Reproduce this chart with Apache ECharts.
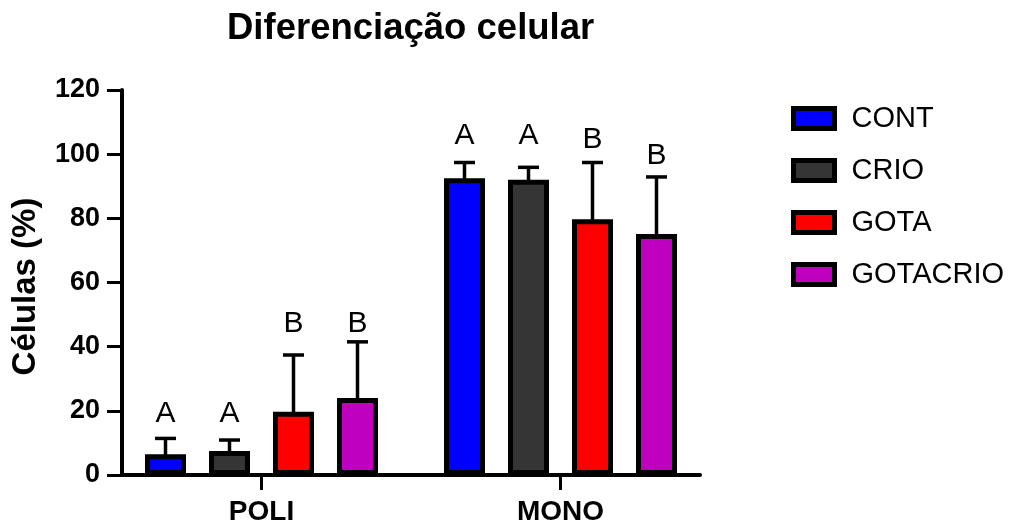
<!DOCTYPE html>
<html>
<head>
<meta charset="utf-8">
<script src="https://cdn.jsdelivr.net/npm/echarts@6/dist/echarts.min.js"></script>
<style>html,body{margin:0;padding:0;background:#fff}#c{width:1016px;height:525px}</style>
</head>
<body>
<div id="c"></div>
<script>
const categories = ['POLI', 'MONO'];
const seriesNames = ['CONT', 'CRIO', 'GOTA', 'GOTACRIO'];
const seriesColors = ['#0000ff', '#353535', '#ff0000', '#c000c0'];
const meanCONT = [6.5, 92.5];
const meanCRIO = [7.5, 92.0];
const meanGOTA = [19.7, 79.7];
const meanGOTACRIO = [24.0, 75.1];
const sdCONT = [4.9, 4.9];
const sdCRIO = [3.4, 3.9];
const sdGOTA = [17.7, 17.7];
const sdGOTACRIO = [17.5, 17.8];
const lettersCONT = ['A', 'A'];
const lettersCRIO = ['A', 'A'];
const lettersGOTA = ['B', 'B'];
const lettersGOTACRIO = ['B', 'B'];
const letterLevelCONT = [16.3, 102.9];
const letterLevelCRIO = [16.3, 102.9];
const letterLevelGOTA = [44.2, 101.8];
const letterLevelGOTACRIO = [44.2, 96.6];
const yTicks = [0, 20, 40, 60, 80, 100, 120];

const means = [meanCONT, meanCRIO, meanGOTA, meanGOTACRIO];
const sds = [sdCONT, sdCRIO, sdGOTA, sdGOTACRIO];
const letters = [lettersCONT, lettersCRIO, lettersGOTA, lettersGOTACRIO];
const letterLevels = [letterLevelCONT, letterLevelCRIO, letterLevelGOTA, letterLevelGOTACRIO];

const FONT = "'Liberation Sans', Arial, sans-serif";
const BAR_W = 41, BAR_GAP = 23;
const STEP = BAR_W + BAR_GAP;

const series = [];
seriesNames.forEach((name, i) => {
  series.push({
    name: name, type: 'bar', xAxisIndex: 0, yAxisIndex: 0,
    barWidth: BAR_W, barGap: (BAR_GAP / BAR_W * 100) + '%',
    itemStyle: { color: seriesColors[i], borderColor: '#000', borderWidth: 5 },
    data: means[i], z: 3
  });
});
seriesNames.forEach((name, i) => {
  series.push({
    name: 'err_' + name, type: 'custom', xAxisIndex: 0, yAxisIndex: 0, z: 2,
    data: categories.map((c, k) => [k, means[i][k], sds[i][k], letterLevels[i][k]]),
    renderItem: function (params, api) {
      const k = api.value(0);
      const m = api.value(1), s = api.value(2), lv = api.value(3);
      const base = api.coord([k, m]);
      const top = api.coord([k, m + s]);
      const lp = api.coord([k, lv]);
      const cx = base[0] + (i - 1.5) * STEP;
      const txt = letters[i][k];
      return {
        type: 'group',
        children: [
          { type: 'line', shape: { x1: cx, y1: base[1] + 4, x2: cx, y2: top[1] }, style: { stroke: '#000', lineWidth: 3.5 } },
          { type: 'line', shape: { x1: cx - 10.5, y1: top[1], x2: cx + 10.5, y2: top[1] }, style: { stroke: '#000', lineWidth: 3.5 } },
          { type: 'text', x: cx, y: lp[1] + 6, style: { text: txt, fill: '#000', font: "30px " + FONT, textAlign: 'center', textVerticalAlign: 'bottom' } }
        ]
      };
    }
  });
});

const option = {
  animation: false,
  backgroundColor: '#fff',
  title: {
    text: 'Diferenciação celular', left: 222, top: 5,
    textStyle: { fontFamily: FONT, fontWeight: 'bold', fontSize: 36.5, color: '#000' }
  },
  legend: {
    data: seriesNames, orient: 'vertical', left: 786, top: 99,
    icon: 'rect', itemWidth: 41, itemHeight: 20, itemGap: 23,
    itemStyle: { borderColor: '#000', borderWidth: 5 },
    textStyle: { fontFamily: FONT, fontSize: 29, color: '#000', padding: [0, 0, 0, 12] }
  },
  grid: [
    { left: 112, right: 306, top: 90, bottom: 50, outerBoundsMode: 'none', containLabel: false },
    { left: 122, right: 316, top: 90, bottom: 50, outerBoundsMode: 'none', containLabel: false }
  ],
  xAxis: [
    {
      type: 'category', gridIndex: 0, data: categories,
      axisLine: { show: false },
      axisTick: { show: true, alignWithLabel: true, length: 15, lineStyle: { color: '#000', width: 3 } },
      axisLabel: { fontFamily: FONT, fontWeight: 'bold', fontSize: 28, color: '#000', margin: 23 }
    },
    {
      type: 'value', gridIndex: 1, min: 0, max: 1,
      axisLine: { show: true, onZero: true, lineStyle: { color: '#000', width: 4 } },
      axisTick: { show: false }, axisLabel: { show: false }, splitLine: { show: false }
    }
  ],
  yAxis: [
    { type: 'value', gridIndex: 0, min: 0, max: 120, show: false },
    {
      type: 'value', gridIndex: 1, min: yTicks[0], max: yTicks[yTicks.length - 1], interval: 20,
      name: 'Células (%)', nameLocation: 'middle', nameGap: 80,
      nameTextStyle: { fontFamily: FONT, fontWeight: 'bold', fontSize: 33, color: '#000', padding: [0, 8, 0, 0] },
      axisLine: { show: true, lineStyle: { color: '#000', width: 4 } },
      axisTick: { show: true, length: 15, lineStyle: { color: '#000', width: 3 } },
      axisLabel: { fontFamily: FONT, fontWeight: 'bold', fontSize: 27, color: '#000', margin: 22 },
      splitLine: { show: false }
    }
  ],
  series: series
};
const chart = echarts.init(document.getElementById('c'), null, { renderer: 'canvas' });
chart.setOption(option);
</script>
</body>
</html>
